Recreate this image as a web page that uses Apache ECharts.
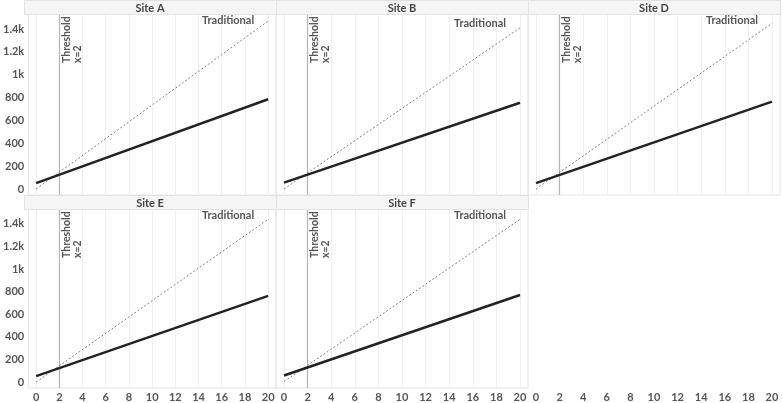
<!DOCTYPE html>
<html><head><meta charset="utf-8">
<script src="https://cdn.jsdelivr.net/npm/echarts@6/dist/echarts.min.js"></script>
<style>html,body{margin:0;padding:0;background:#fff}#c{width:783px;height:403px}</style>
</head><body><div id="c"></div>
<script>
// ---- data ----
const siteNames = ['Site A', 'Site B', 'Site D', 'Site E', 'Site F'];
const xPoints = [0, 20];
const fitA = [52, 785];
const fitB = [56, 755];
const fitD = [52, 765];
const fitE = [52, 762];
const fitF = [58, 770];
const tradA = [0, 1470];
const tradB = [0, 1410];
const tradD = [0, 1450];
const tradE = [0, 1440];
const tradF = [4, 1440];
const xTicks = [0, 2, 4, 6, 8, 10, 12, 14, 16, 18, 20];
const yTicks = [0, 200, 400, 600, 800, 1000, 1200, 1400];
const yTickLabels = ['0', '200', '400', '600', '800', '1k', '1.2k', '1.4k'];
const thresholdX = 2;
const thresholdLabel = 'Threshold\nx=2';
const tradLabel = 'Traditional';

const fits = [fitA, fitB, fitD, fitE, fitF];
const trads = [tradA, tradB, tradD, tradE, tradF];

// ---- layout ----
const colLeft = [24, 276, 528], colW = 252;
const headTop = [0, 195], headH = 14;
const plotTop = [14, 209], plotH = 181;
const pxPerX = 11.8;
const xMin = -8 / pxPerX, xMax = 20 + 8 / pxPerX;
const pxPerY = 160 / 1400;
const yMax = 1400 + 15 / pxPerY, yMin = -(plotH - 175) / pxPerY;
const FONT = 'Lato, "Open Sans", sans-serif';
const TXT = '#555';

const chart = echarts.init(document.getElementById('c'), null, {renderer: 'canvas'});
const grids = [], xAxes = [], yAxes = [], series = [], graphics = [];
for (let i = 0; i < 6; i++) {
  const col = i % 3, row = Math.floor(i / 3);
  const empty = i === 5;
  grids.push({left: colLeft[col], top: plotTop[row], width: colW, height: plotH,
    show: !empty, borderColor: '#e4e4e4', borderWidth: 1, backgroundColor: 'transparent'});
  xAxes.push({type: 'value', gridIndex: i, min: xMin, max: xMax,
    axisLine: {show: false}, axisTick: {show: false, customValues: xTicks},
    axisLabel: {show: row === 1 || col === 2 && empty, customValues: xTicks, margin: 4,
      color: TXT, fontWeight: 'bold', fontSize: 11, fontFamily: FONT},
    splitLine: {show: !empty, lineStyle: {color: '#efefef', width: 1}}});
  yAxes.push({type: 'value', gridIndex: i, min: yMin, max: yMax,
    axisLine: {show: false}, axisTick: {show: false, customValues: yTicks},
    axisLabel: {show: col === 0, customValues: yTicks, margin: 4,
      formatter: v => yTickLabels[yTicks.indexOf(v)] ?? '',
      color: TXT, fontWeight: 'bold', fontSize: 11, fontFamily: FONT},
    splitLine: {show: false}});
  if (empty) continue;
  graphics.push({type: 'rect', silent: true, z: 5,
    shape: {x: colLeft[col] + 0.5, y: headTop[row] + 0.5, width: colW, height: headH},
    style: {fill: '#f5f5f5', stroke: '#e2e2e2', lineWidth: 1}});
  graphics.push({type: 'text', silent: true, z: 6, x: colLeft[col] + colW / 2, y: headTop[row] + headH / 2 + 1,
    style: {text: siteNames[i], textAlign: 'center', textVerticalAlign: 'middle',
      fill: '#444', font: 'bold 11px ' + FONT}});
  series.push({type: 'line', xAxisIndex: i, yAxisIndex: i, symbol: 'none', silent: true,
    data: xPoints.map((x, k) => [x, trads[i][k]]),
    lineStyle: {color: '#808080', width: 1, type: [2, 2]}, z: 3,
    markLine: {silent: true, symbol: 'none', label: {show: false},
      lineStyle: {color: '#b4b4b4', width: 1.2, type: 'solid'},
      data: [{xAxis: thresholdX}], z: 2}});
  series.push({type: 'line', xAxisIndex: i, yAxisIndex: i, symbol: 'none', silent: true,
    data: xPoints.map((x, k) => [x, fits[i][k]]),
    lineStyle: {color: '#222', width: 2.5}, z: 4});
}

chart.setOption({animation: false, grid: grids, xAxis: xAxes, yAxis: yAxes, series: series, graphic: graphics});

// annotations positioned through the axes
const extra = graphics.slice();
for (let i = 0; i < 5; i++) {
  const row = Math.floor(i / 3);
  const tp = chart.convertToPixel({gridIndex: i}, [thresholdX, 0]);
  extra.push({type: 'text', silent: true, z: 7, x: tp[0] + 2, y: plotTop[row] + 49, rotation: Math.PI / 2,
    style: {text: thresholdLabel, textAlign: 'left', textVerticalAlign: 'top', lineHeight: 11,
      fill: TXT, font: 'bold 10.5px ' + FONT}});
  const last = xPoints.length - 1;
  const ep = chart.convertToPixel({gridIndex: i}, [xPoints[last], trads[i][last]]);
  extra.push({type: 'text', silent: true, z: 7, x: ep[0] - 14, y: Math.max(plotTop[row] + 6, ep[1] - 4),
    style: {text: tradLabel, textAlign: 'right', textVerticalAlign: 'middle',
      fill: TXT, font: 'bold 11px ' + FONT}});
}
chart.setOption({graphic: extra});
</script></body></html>
